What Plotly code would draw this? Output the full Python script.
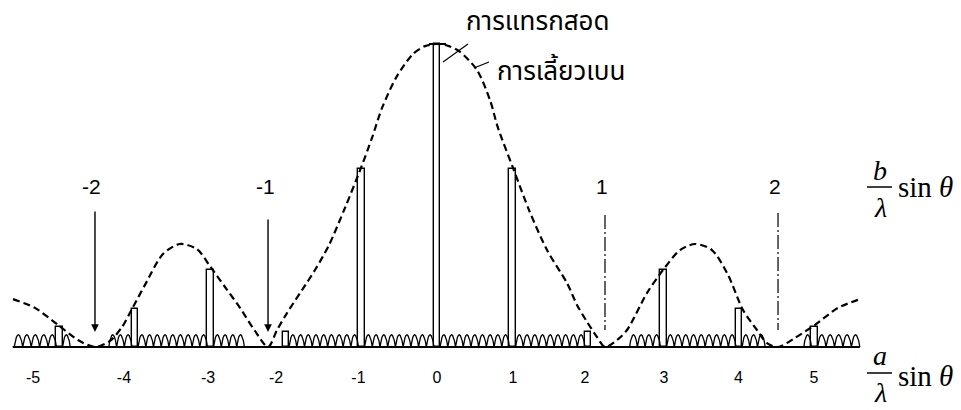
import math
import plotly.graph_objects as go

# ---------------- data ----------------
orders = [-5, -4, -3, -2, -1, 0, 1, 2, 3, 4, 5]
order_peak = [0.066, 0.125, 0.255, 0.05, 0.588, 1.0, 0.588, 0.05, 0.255, 0.125, 0.066]

# diffraction envelope (dashed curve), x in a/lambda*sin(theta) units
env_x = [-5.616, -5.325, -5.020, -4.755, -4.530,
         -4.331, -4.172, -4.026, -3.868, -3.629, -3.404, -3.179, -3.007, -2.808, -2.609, -2.411, -2.238,
         -2.119, -1.987, -1.788, -1.616, -1.430, -1.219, -1.007, -0.861, -0.728, -0.530, -0.318, -0.159, 0.0,
         0.159, 0.305, 0.530, 0.702, 0.808, 1.007, 1.219, 1.457, 1.722, 1.854, 1.987, 2.119, 2.225,
         2.384, 2.517, 2.781, 2.993, 3.219, 3.417, 3.642, 3.854, 4.053, 4.238, 4.371, 4.517,
         4.742, 5.007, 5.311, 5.603]
env_y = [0.158, 0.129, 0.073, 0.023, 0.0,
         0.020, 0.066, 0.132, 0.205, 0.307, 0.340, 0.323, 0.267, 0.198, 0.129, 0.053, 0.0,
         0.056, 0.112, 0.188, 0.254, 0.337, 0.459, 0.591, 0.690, 0.789, 0.894, 0.967, 0.993, 1.0,
         0.993, 0.974, 0.914, 0.815, 0.723, 0.591, 0.452, 0.320, 0.211, 0.139, 0.083, 0.033, 0.0,
         0.023, 0.056, 0.178, 0.254, 0.320, 0.340, 0.320, 0.238, 0.122, 0.056, 0.013, 0.0,
         0.030, 0.073, 0.129, 0.158]

# small secondary maxima (ripple) along the baseline
ripple_from = -5.6
ripple_to = 5.6
ripples_per_order = 9
ripple_height = 0.04
ripple_flat_zones = [(-4.9, -4.33), (-2.52, -2.08), (2.03, 2.52), (4.32, 4.81)]

# tick labels (positions as placed in the figure)
tick_pos = [-5.351, -4.146, -3.033, -2.132, -1.040, 0.0, 1.007, 1.960, 3.007, 3.993, 4.993]
tick_text = ["-5", "-4", "-3", "-2", "-1", "0", "1", "2", "3", "4", "5"]

# diffraction orders marked above (b/lambda sin theta)
diff_labels = ["-2", "-1", "1", "2"]
diff_pos = [-4.53, -2.238, 2.225, 4.517]

# ---------------- layout helpers (pixel -> data) ----------------
W, H = 961, 410
X0, SX = 437.0, 75.5      # pixel of x=0, pixels per unit
Y0, SY = 347.0, 303.0     # pixel of baseline, pixels per unit intensity


def ux(px):
    return (px - X0) / SX


def vy(py):
    return (Y0 - py) / SY


# ---------------- ripple path ----------------
half_bar = 0.04
rx, ry = [], []
edges = [ripple_from] + [k for k in orders] + [ripple_to]
for a, b in zip(edges[:-1], edges[1:]):
    lo = a + (half_bar if a in orders else 0)
    hi = b - (half_bar if b in orders else 0)
    n = max(1, round((hi - lo) / ((1 - 2 * half_bar) / ripples_per_order)))
    w = (hi - lo) / n
    for i in range(n):
        x0 = lo + i * w
        xc = x0 + w / 2
        flat = any(z0 <= xc <= z1 for z0, z1 in ripple_flat_zones)
        for j in range(9):
            t = j / 8
            rx.append(x0 + w * t)
            ry.append(0 if flat else ripple_height * abs(math.sin(math.pi * t)) ** 0.7)
    rx.append(None)
    ry.append(None)

fig = go.Figure()

# principal maxima (interference)
fig.add_trace(go.Bar(x=orders, y=order_peak, width=0.08,
                     marker=dict(color="white", line=dict(color="black", width=1.4)),
                     hoverinfo="skip"))

# ripple
fig.add_trace(go.Scatter(x=rx, y=ry, mode="lines",
                         line=dict(color="black", width=1.3), hoverinfo="skip"))
# baseline
fig.add_trace(go.Scatter(x=[ripple_from - 0.02, ripple_to], y=[0, 0], mode="lines",
                         line=dict(color="black", width=2), hoverinfo="skip"))
# envelope
fig.add_trace(go.Scatter(x=env_x, y=env_y, mode="lines",
                         line=dict(color="black", width=2.2, dash="7px,4px", shape="spline", smoothing=0.8),
                         hoverinfo="skip"))

shapes = []
annotations = []

# T cap on central maximum
shapes.append(dict(type="line", xref="x", yref="y", x0=ux(429), x1=ux(446), y0=1.0, y1=1.0,
                   line=dict(color="black", width=2)))
# leader lines
shapes.append(dict(type="line", xref="x", yref="y", x0=ux(468), y0=vy(44), x1=ux(443), y1=vy(62),
                   line=dict(color="black", width=1.2)))
shapes.append(dict(type="line", xref="x", yref="y", x0=ux(489), y0=vy(62), x1=ux(474), y1=vy(68),
                   line=dict(color="black", width=1.2)))

# arrows / markers for diffraction minima
arrow_tops = [210, 218, 215, 213]
for lab, xp, top in zip(diff_labels, diff_pos, arrow_tops):
    annotations.append(dict(x=xp, y=vy(186), xref="x", yref="y", text=lab, showarrow=False,
                            font=dict(family="Liberation Sans, Arial", size=21, color="black"),
                            xshift=-3))
    if lab.startswith("-"):
        annotations.append(dict(x=xp, y=vy(332), xref="x", yref="y", ax=xp, ay=vy(top),
                                axref="x", ayref="y", text="", showarrow=True,
                                arrowhead=2, arrowsize=1.1, arrowwidth=1.4, arrowcolor="black"))
    else:
        shapes.append(dict(type="line", xref="x", yref="y", x0=xp, x1=xp, y0=vy(top), y1=vy(330),
                           line=dict(color="#222", width=1.4, dash="14px,3px,2px,3px")))

# Thai labels
thai_font = "Tahoma, Leelawadee UI, Noto Sans Thai, DejaVu Sans, sans-serif"
annotations.append(dict(x=ux(538), y=vy(22), xref="x", yref="y", text="การแทรกสอด", showarrow=False,
                        font=dict(family=thai_font, size=26, color="black")))
annotations.append(dict(x=ux(561), y=vy(72), xref="x", yref="y", text="การเลี้ยวเบน", showarrow=False,
                        font=dict(family=thai_font, size=26, color="black")))

# axis-title fractions
serif = "Liberation Serif, Times New Roman, serif"
for num, ynum, ybar, ylam, ysin in [("b", 170, 187, 207, 187), ("a", 355, 373, 392, 376)]:
    annotations.append(dict(x=ux(880), y=vy(ynum), xref="x", yref="y", text="<i>%s</i>" % num,
                            showarrow=False, font=dict(family=serif, size=28, color="black")))
    shapes.append(dict(type="line", xref="x", yref="y", x0=ux(867), x1=ux(892), y0=vy(ybar), y1=vy(ybar),
                       line=dict(color="black", width=1.5)))
    annotations.append(dict(x=ux(880), y=vy(ylam), xref="x", yref="y", text="<i>λ</i>",
                            showarrow=False, font=dict(family=serif, size=28, color="black")))
    annotations.append(dict(x=ux(896), y=vy(ysin), xref="x", yref="y", text="sin <i>θ</i>",
                            xanchor="left", showarrow=False,
                            font=dict(family=serif, size=29, color="black")))

fig.update_layout(
    width=W, height=H,
    margin=dict(l=0, r=0, t=0, b=0),
    paper_bgcolor="white", plot_bgcolor="white",
    showlegend=False,
    bargap=0,
    shapes=shapes,
    annotations=annotations,
    xaxis=dict(range=[ux(0), ux(W)], showgrid=False, zeroline=False, showline=False,
               tickvals=tick_pos, ticktext=tick_text, ticks="outside", ticklen=16,
               tickcolor="rgba(0,0,0,0)", anchor="free", position=(H - Y0) / H,
               tickfont=dict(family="Liberation Sans, Arial", size=16, color="black")),
    yaxis=dict(range=[vy(H), vy(0)], visible=False),
)

fig.write_html("out.html")
